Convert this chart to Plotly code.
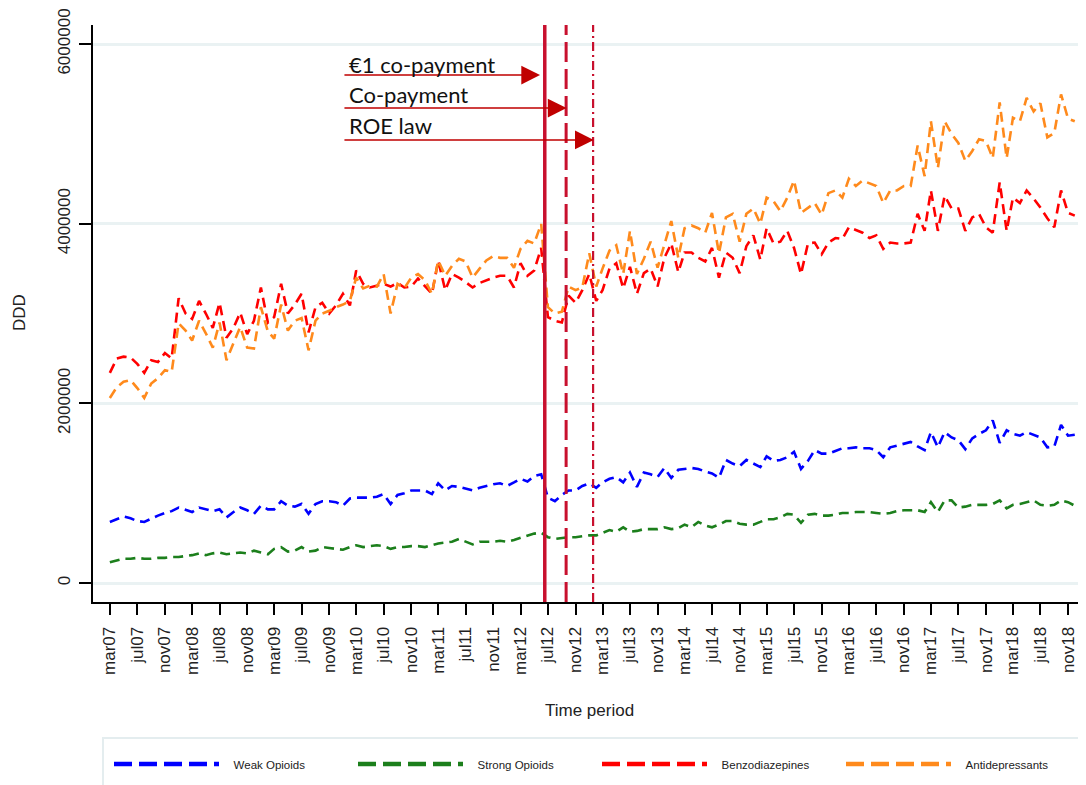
import pandas as pd
import plotly.graph_objects as go

# ---------------- data (monthly DDD, March 2007 - December 2018) ----------------
start_month = "2007-03-01"

weak_opioids = [
    680000, 710000, 740000, 720000, 690000, 680000, 720000, 750000, 780000, 800000,
    840000, 810000, 790000, 840000, 820000, 800000, 820000, 730000, 790000, 840000,
    810000, 770000, 860000, 820000, 820000, 910000, 860000, 850000, 880000, 770000,
    880000, 910000, 910000, 900000, 860000, 940000, 950000, 950000, 950000, 960000,
    990000, 880000, 980000, 1000000, 1030000, 1030000, 1030000, 990000, 1110000, 1030000,
    1080000, 1070000, 1050000, 1030000, 1060000, 1080000, 1100000, 1110000, 1080000, 1120000,
    1160000, 1130000, 1190000, 1210000, 950000, 910000, 980000, 1030000, 1030000, 1080000,
    1110000, 1060000, 1120000, 1160000, 1180000, 1120000, 1230000, 1070000, 1230000, 1210000,
    1180000, 1280000, 1170000, 1260000, 1270000, 1280000, 1270000, 1240000, 1220000, 1170000,
    1370000, 1330000, 1300000, 1370000, 1330000, 1290000, 1410000, 1360000, 1370000, 1400000,
    1460000, 1270000, 1360000, 1480000, 1440000, 1440000, 1470000, 1500000, 1500000, 1510000,
    1500000, 1500000, 1480000, 1400000, 1510000, 1530000, 1550000, 1570000, 1520000, 1480000,
    1680000, 1510000, 1680000, 1620000, 1590000, 1490000, 1610000, 1660000, 1700000, 1810000,
    1560000, 1700000, 1660000, 1640000, 1680000, 1650000, 1620000, 1510000, 1520000, 1760000,
    1640000, 1650000,
]

strong_opioids = [
    230000, 250000, 270000, 270000, 280000, 270000, 270000, 280000, 280000, 290000,
    290000, 300000, 310000, 330000, 310000, 330000, 340000, 320000, 330000, 340000,
    330000, 360000, 340000, 320000, 380000, 400000, 350000, 360000, 400000, 350000,
    360000, 400000, 390000, 380000, 370000, 400000, 420000, 400000, 410000, 420000,
    410000, 380000, 400000, 400000, 410000, 410000, 400000, 420000, 440000, 450000,
    460000, 490000, 460000, 430000, 460000, 460000, 460000, 470000, 460000, 480000,
    500000, 530000, 550000, 560000, 510000, 490000, 500000, 510000, 510000, 520000,
    530000, 530000, 560000, 590000, 570000, 620000, 570000, 580000, 600000, 600000,
    600000, 620000, 600000, 610000, 650000, 620000, 680000, 640000, 620000, 650000,
    690000, 690000, 660000, 650000, 650000, 680000, 710000, 710000, 730000, 770000,
    760000, 670000, 760000, 770000, 750000, 750000, 760000, 780000, 780000, 790000,
    790000, 790000, 780000, 770000, 780000, 800000, 810000, 810000, 810000, 790000,
    900000, 790000, 920000, 920000, 840000, 850000, 870000, 870000, 870000, 880000,
    920000, 830000, 870000, 880000, 900000, 920000, 870000, 860000, 870000, 920000,
    900000, 860000,
]

benzodiazepines = [
    2340000, 2500000, 2520000, 2510000, 2440000, 2340000, 2480000, 2460000, 2560000, 2500000,
    3170000, 3000000, 2940000, 3140000, 3000000, 2840000, 3120000, 2730000, 2840000, 3010000,
    2770000, 2920000, 3290000, 2900000, 2960000, 3330000, 3000000, 3100000, 3220000, 2790000,
    3070000, 3120000, 3000000, 3090000, 3220000, 3090000, 3480000, 3330000, 3290000, 3310000,
    3330000, 3300000, 3340000, 3290000, 3300000, 3390000, 3300000, 3220000, 3590000, 3260000,
    3440000, 3400000, 3350000, 3290000, 3340000, 3370000, 3400000, 3420000, 3420000, 3290000,
    3560000, 3420000, 3480000, 3730000, 2960000, 2920000, 2900000, 3200000, 3120000, 3260000,
    3440000, 3140000, 3260000, 3500000, 3560000, 3280000, 3520000, 3220000, 3450000, 3500000,
    3300000, 3620000, 3780000, 3460000, 3680000, 3680000, 3620000, 3580000, 3730000, 3400000,
    3680000, 3620000, 3450000, 3750000, 3870000, 3600000, 3950000, 3780000, 3800000, 3920000,
    3730000, 3440000, 3780000, 3790000, 3660000, 3790000, 3840000, 3830000, 3960000, 3930000,
    3900000, 3840000, 3870000, 3720000, 3790000, 3780000, 3780000, 3790000, 4110000, 3920000,
    4370000, 3920000, 4310000, 4170000, 4170000, 3920000, 4070000, 4110000, 3960000, 3900000,
    4460000, 3920000, 4290000, 4230000, 4370000, 4280000, 4180000, 4060000, 3960000, 4370000,
    4120000, 4090000,
]

antidepressants = [
    2060000, 2180000, 2240000, 2260000, 2170000, 2060000, 2220000, 2280000, 2370000, 2350000,
    2890000, 2810000, 2700000, 2920000, 2780000, 2620000, 2900000, 2480000, 2670000, 2850000,
    2620000, 2610000, 3070000, 2800000, 2720000, 3100000, 2810000, 2920000, 2950000, 2590000,
    2920000, 3000000, 3030000, 3070000, 3100000, 3140000, 3400000, 3280000, 3310000, 3300000,
    3440000, 3000000, 3330000, 3280000, 3400000, 3440000, 3370000, 3220000, 3590000, 3420000,
    3530000, 3610000, 3580000, 3400000, 3500000, 3590000, 3640000, 3620000, 3620000, 3510000,
    3720000, 3810000, 3780000, 4000000, 3070000, 3000000, 3020000, 3300000, 3260000, 3290000,
    3670000, 3300000, 3500000, 3700000, 3760000, 3440000, 3920000, 3440000, 3610000, 3800000,
    3510000, 3760000, 4030000, 3620000, 3950000, 3980000, 3950000, 3900000, 4120000, 3670000,
    4070000, 4110000, 3800000, 4110000, 4170000, 4000000, 4290000, 4250000, 4140000, 4290000,
    4480000, 4120000, 4180000, 4230000, 4100000, 4340000, 4370000, 4290000, 4500000, 4420000,
    4480000, 4450000, 4420000, 4230000, 4370000, 4370000, 4420000, 4420000, 4870000, 4530000,
    5140000, 4620000, 5140000, 5000000, 4900000, 4700000, 4810000, 4940000, 4920000, 4730000,
    5350000, 4730000, 5180000, 5140000, 5400000, 5250000, 5340000, 4960000, 5010000, 5440000,
    5170000, 5140000,
]

series_names = ["Weak Opioids", "Strong Opioids", "Benzodiazepines", "Antidepressants"]

tick_labels = [
    "mar07", "jul07", "nov07", "mar08", "jul08", "nov08", "mar09", "jul09", "nov09",
    "mar10", "jul10", "nov10", "mar11", "jul11", "nov11", "mar12", "jul12", "nov12",
    "mar13", "jul13", "nov13", "mar14", "jul14", "nov14", "mar15", "jul15", "nov15",
    "mar16", "jul16", "nov16", "mar17", "jul17", "nov17", "mar18", "jul18", "nov18",
]

y_tick_values = [0, 2000000, 4000000, 6000000]
y_tick_labels = ["0", "2000000", "4000000", "6000000"]

intervention_labels = ["€1 co-payment", "Co-payment", "ROE law"]
intervention_dates = ["2012-06-17", "2012-09-20", "2013-01-18"]

# ---------------- styles ----------------
series_colors = ["#0000ff", "#1c7f1c", "#ff0000", "#ff8a1c"]
vline_color = "#c8102e"
vline_dashes = ["solid", "20px,7px", "9px,4px,2px,4px"]
vline_widths = [3.5, 3, 2.2]
arrow_color = "#c00000"
arrow_tail_date = "2010-01-01"
arrow_tip_dates = ["2012-05-27", "2012-09-22", "2013-01-21"]
arrow_levels = [5655000, 5288000, 4932000]
label_date = "2010-01-18"
label_levels = [5770000, 5440000, 5095000]

months = pd.date_range(start_month, periods=len(weak_opioids), freq="MS")
tick_dates = pd.date_range(start_month, periods=len(tick_labels), freq="4MS")

# page has an 8px body margin: figure pixel = page pixel - 8
OFF = 8
W, H = 1086 - OFF, 785 - OFF
PLOT_L, PLOT_R, PLOT_T, PLOT_B = 93, 1086, 25, 602   # page pixels


def px_x(px):
    return (px - PLOT_L) / (PLOT_R - PLOT_L)


def px_y(py):
    return (PLOT_B - py) / (PLOT_B - PLOT_T)


fig = go.Figure()

all_series = [weak_opioids, strong_opioids, benzodiazepines, antidepressants]
for name, vals, col in zip(series_names, all_series, series_colors):
    fig.add_trace(go.Scatter(
        x=months, y=vals, mode="lines", name=name, legendgroup=name,
        showlegend=False,
        line=dict(color=col, width=2.6, dash="10px,6px"),
    ))
for name, col in zip(series_names, series_colors):
    fig.add_trace(go.Scatter(
        x=[None], y=[None], mode="lines", name="\u00a0\u00a0\u00a0" + name,
        legendgroup=name, showlegend=True,
        line=dict(color=col, width=4.5, dash="18px,7px"),
    ))

# intervention lines
for d, dash, w in zip(intervention_dates, vline_dashes, vline_widths):
    fig.add_shape(type="line", xref="x", yref="paper", x0=d, x1=d, y0=0, y1=1,
                  line=dict(color=vline_color, width=w, dash=dash), layer="above")

annotations = []
for tip, lvl in zip(arrow_tip_dates, arrow_levels):
    annotations.append(dict(
        x=tip, y=lvl, xref="x", yref="y", ax=arrow_tail_date, ay=lvl,
        axref="x", ayref="y", text="", showarrow=True, arrowhead=2,
        arrowsize=2.5, arrowwidth=1.5, arrowcolor=arrow_color, standoff=0,
    ))
for lab, lvl in zip(intervention_labels, label_levels):
    annotations.append(dict(
        x=label_date, y=lvl, xref="x", yref="y", text=lab, showarrow=False,
        xanchor="left", yanchor="middle",
        font=dict(family="Lato, Open Sans, sans-serif", size=22, color="#111111"),
    ))

annotations.append(dict(
    x=0.5, y=px_y(710), xref="paper", yref="paper", text="Time period",
    showarrow=False, xanchor="center", yanchor="middle",
    font=dict(family="Liberation Sans, Arial, sans-serif", size=17, color="#222222"),
))
annotations.append(dict(
    x=px_x(19), y=px_y(313), xref="paper", yref="paper", text="DDD",
    showarrow=False, xanchor="center", yanchor="middle", textangle=-90,
    font=dict(family="Liberation Sans, Arial, sans-serif", size=17, color="#222222"),
))

# legend frame
fig.add_shape(type="rect", xref="paper", yref="paper",
              x0=px_x(103), x1=px_x(1092), y0=px_y(738), y1=px_y(800),
              line=dict(color="#e4edef", width=2), fillcolor="white", layer="below")

fig.update_layout(
    width=W, height=H,
    margin=dict(l=PLOT_L - OFF, r=0, t=PLOT_T - OFF, b=H - (PLOT_B - OFF), pad=0,
                autoexpand=False),
    paper_bgcolor="white", plot_bgcolor="white",
    annotations=annotations,
    showlegend=True,
    legend=dict(
        orientation="h", x=px_x(109), xanchor="left", y=px_y(764), yanchor="middle",
        bgcolor="rgba(0,0,0,0)", borderwidth=0,
        itemwidth=105, entrywidth=124, entrywidthmode="pixels",
        font=dict(family="Liberation Sans, Arial, sans-serif", size=11.5, color="#222222"),
        itemclick=False, itemdoubleclick=False,
    ),
    xaxis=dict(
        type="date", range=["2006-12-16", "2019-01-20"], automargin=False,
        tickmode="array", tickvals=tick_dates, ticktext=tick_labels,
        tickangle=-90, ticks="outside", ticklen=11, tickwidth=2, tickcolor="black",
        showline=True, linecolor="black", linewidth=2, mirror=False,
        showgrid=False, zeroline=False,
        tickfont=dict(family="Liberation Sans, Arial, sans-serif", size=17, color="#222222"),
        ticklabelstandoff=5,
    ),
    yaxis=dict(
        range=[-211500, 6212000], automargin=False,
        tickmode="array", tickvals=y_tick_values, ticktext=y_tick_labels,
        tickangle=-90, ticks="outside", ticklen=12, tickwidth=2, tickcolor="black",
        showline=True, linecolor="black", linewidth=2, mirror=False,
        showgrid=True, gridcolor="#eaf2f3", gridwidth=2.5, zeroline=False,
        tickfont=dict(family="Liberation Sans, Arial, sans-serif", size=17, color="#222222"),
        ticklabelstandoff=2,
    ),
)

fig.write_html("out.html")
